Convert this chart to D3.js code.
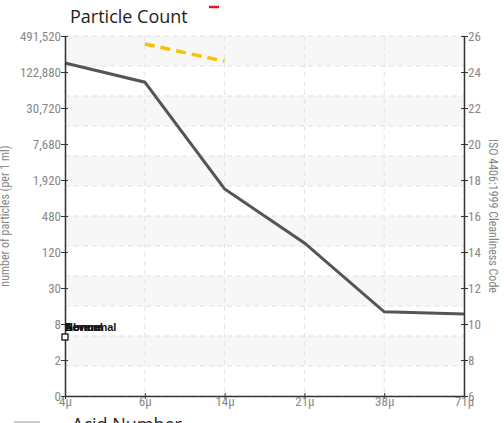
<!DOCTYPE html>
<html><head><meta charset="utf-8">
<script src="https://cdn.jsdelivr.net/npm/d3@7"></script>
<style>body{margin:0;background:#fff;}svg{display:block;}</style>
</head><body><svg id="c" width="504" height="423"></svg>
<script>
const categories = ["4\u03bc","6\u03bc","14\u03bc","21\u03bc","38\u03bc","71\u03bc"];
const particleCounts = [174000, 83000, 1360, 170, 12, 11];
const targetCounts = [null, 362000, 186000, null, null, null];
const countTicks = [0.46875, 1.875, 7.5, 30, 120, 480, 1920, 7680, 30720, 122880, 491520];
const codeTicks = [6, 8, 10, 12, 14, 16, 18, 20, 22, 24, 26];
const legendNames = ["Severe", "Abnormal", "Normal"];

const svg = d3.select("#c");
const L = 65, R = 464, T = 36, B = 396;
const x = d3.scalePoint().domain(categories).range([L, R]);
const y = d3.scaleLog().base(2).domain([0.46875, 491520]).range([B, T]);
const yc = d3.scaleLinear().domain([6, 26]).range([B, T]);
const tickFont = "'Liberation Sans Narrow','Roboto Condensed',sans-serif";

// bands and grid (12 divisions)
const nDiv = 12, step = (B - T) / nDiv;
const g = svg.append("g");
for (let i = 0; i < nDiv; i++) {
  if (i % 2 === 0) g.append("rect").attr("x", L).attr("y", T + i * step).attr("width", R - L).attr("height", step).attr("fill", "#f7f7f7");
}
for (let i = 0; i <= nDiv; i++) {
  g.append("line").attr("x1", L).attr("x2", R).attr("y1", T + i * step).attr("y2", T + i * step)
    .attr("stroke", "#e0e0e0").attr("stroke-dasharray", "5,4");
}
categories.forEach(c => {
  g.append("line").attr("x1", x(c)).attr("x2", x(c)).attr("y1", T).attr("y2", B)
    .attr("stroke", "#e4e4e4").attr("stroke-dasharray", "5,4");
});

// lines
const line = d3.line().defined(d => d.v != null).x(d => x(d.c)).y(d => y(d.v));
svg.append("path").datum(categories.map((c, i) => ({c, v: particleCounts[i]})))
  .attr("d", line).attr("fill", "none").attr("stroke", "#555").attr("stroke-width", 3);
svg.append("path").datum(categories.map((c, i) => ({c, v: targetCounts[i]})))
  .attr("d", line).attr("fill", "none").attr("stroke", "#f7c200").attr("stroke-width", 3.5).attr("stroke-dasharray", "10,6");

// axes
const yAxisL = d3.axisLeft(y).tickValues(countTicks).tickFormat(d3.format(",.0f")).tickSizeInner(4).tickSizeOuter(0);
const gl = svg.append("g").attr("transform", `translate(${L},0)`).call(yAxisL);
const yAxisR = d3.axisRight(yc).tickValues(codeTicks).tickSizeInner(4).tickSizeOuter(0);
const gr = svg.append("g").attr("transform", `translate(${R},0)`).call(yAxisR);
const xAxis = d3.axisBottom(x).tickSizeInner(3).tickSizeOuter(0);
const gx = svg.append("g").attr("transform", `translate(0,${B})`).call(xAxis);
[gl, gr, gx].forEach(a => {
  a.select(".domain").attr("stroke", "#333").attr("stroke-width", 1.5);
  a.selectAll(".tick line").attr("stroke", "#333");
  a.selectAll(".tick text").attr("fill", "#888").style("font-family", tickFont).style("font-size", "13px");
});
gl.selectAll(".tick line").attr("x1", 3);
gr.selectAll(".tick line").attr("x1", -3);
gl.selectAll(".tick text").attr("x", -4);
gr.selectAll(".tick text").attr("x", 4);
gx.selectAll(".tick text").attr("dy", "0.55em").attr("y", 3);
gx.selectAll(".tick line").attr("y1", -3);

// axis titles
svg.append("text").attr("transform", `translate(9,${(T + B) / 2}) rotate(-90)`).attr("text-anchor", "middle")
  .attr("fill", "#888").style("font-family", tickFont).style("font-size", "12px").text("number of particles (per 1 ml)");
svg.append("text").attr("transform", `translate(489,${(T + B) / 2}) rotate(90)`).attr("text-anchor", "middle")
  .attr("fill", "#888").style("font-family", tickFont).style("font-size", "12px").text("ISO 4406:1999 Cleanliness Code");

// overlapped limit labels
legendNames.forEach(n => {
  svg.append("text").attr("x", L).attr("y", 331).attr("fill", "#111").style("font-family", "'Liberation Sans',Arial,sans-serif")
    .style("font-size", "11px").style("font-weight", "bold").text(n);
});
svg.append("rect").attr("x", L - 3).attr("y", 334).attr("width", 6).attr("height", 6).attr("fill", "#fff").attr("stroke", "#000").attr("stroke-width", 1.2);

// title and cropped legend items
svg.append("text").attr("x", 70).attr("y", 23).attr("fill", "#222").style("font-family", "'Open Sans',sans-serif").style("font-size", "18px").text("Particle Count");
svg.append("line").attr("x1", 209).attr("x2", 219).attr("y1", 7).attr("y2", 7).attr("stroke", "#e8141c").attr("stroke-width", 2.5);
svg.append("text").attr("x", 72).attr("y", 431).attr("fill", "#222").style("font-family", "'Open Sans',sans-serif").style("font-size", "18px").text("Acid Number");
svg.append("line").attr("x1", 14).attr("x2", 40).attr("y1", 422).attr("y2", 422).attr("stroke", "#ccc").attr("stroke-width", 2);
</script></body></html>
